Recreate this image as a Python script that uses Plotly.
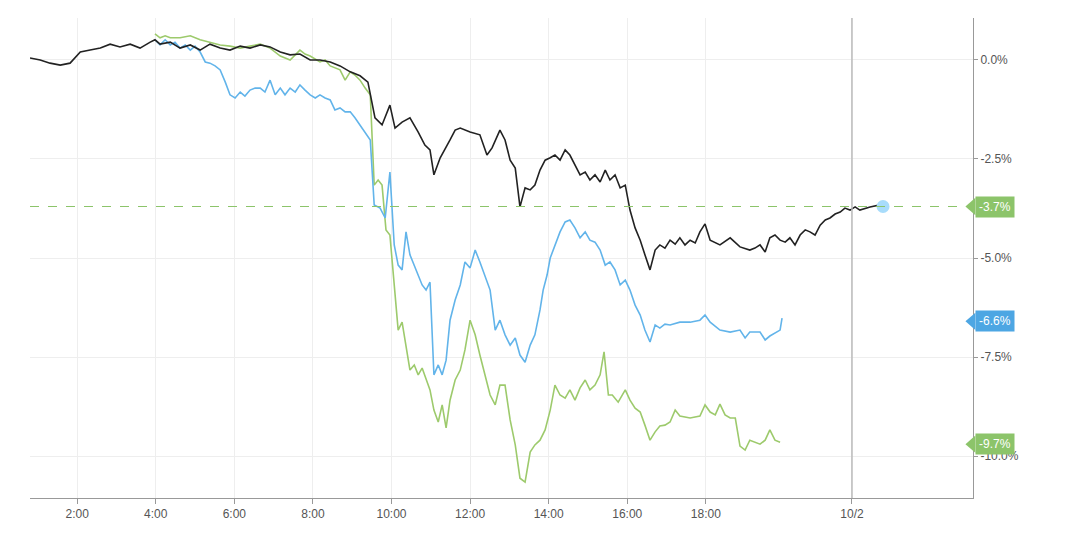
import plotly.graph_objects as go

# times in hours (10/2 tick at 21.72 as in the source axis)
black_t = [0.80,1.06,1.31,1.57,1.82,2.08,2.33,2.59,2.84,3.09,3.35,3.60,3.86,3.98,4.11,4.37,4.62,4.88,5.13,5.38,5.64,5.89,6.15,6.40,6.66,6.91,7.17,7.42,7.67,7.93,8.18,8.44,8.69,8.95,9.20,9.40,9.58,9.76,9.96,10.09,10.27,10.47,10.68,10.85,10.98,11.08,11.24,11.36,11.49,11.62,11.75,12.00,12.25,12.43,12.56,12.76,12.89,13.02,13.15,13.27,13.40,13.53,13.65,13.78,13.91,14.04,14.16,14.29,14.42,14.54,14.67,14.80,14.93,15.05,15.18,15.31,15.44,15.56,15.69,15.82,15.95,16.07,16.20,16.33,16.45,16.58,16.71,16.83,16.96,17.09,17.22,17.34,17.47,17.60,17.73,17.85,17.98,18.11,18.36,18.62,18.87,19.12,19.25,19.38,19.51,19.63,19.76,19.89,20.02,20.14,20.27,20.40,20.53,20.65,20.78,20.91,21.04,21.16,21.29,21.42,21.54,21.67,21.80,21.92,22.18,22.43,22.51]
black_v = [0.05,0,-0.08,-0.13,-0.08,0.20,0.25,0.30,0.40,0.33,0.40,0.30,0.45,0.51,0.40,0.45,0.30,0.38,0.25,0.40,0.30,0.25,0.35,0.30,0.38,0.33,0.20,0.13,0.15,0,0,-0.05,-0.15,-0.30,-0.40,-0.56,-1.46,-1.64,-1.14,-1.72,-1.57,-1.46,-1.82,-2.15,-2.27,-2.90,-2.47,-2.27,-2.02,-1.77,-1.72,-1.82,-1.89,-2.40,-2.22,-1.77,-2.02,-2.53,-2.73,-3.71,-3.23,-3.28,-3.16,-2.78,-2.53,-2.47,-2.40,-2.53,-2.27,-2.40,-2.65,-2.90,-2.83,-3.03,-2.90,-3.08,-2.78,-3.03,-2.90,-3.23,-3.16,-3.79,-4.24,-4.55,-4.92,-5.30,-4.80,-4.67,-4.75,-4.55,-4.65,-4.49,-4.67,-4.55,-4.62,-4.34,-4.14,-4.55,-4.67,-4.49,-4.72,-4.80,-4.75,-4.67,-4.85,-4.49,-4.42,-4.55,-4.60,-4.49,-4.67,-4.42,-4.29,-4.34,-4.42,-4.17,-4.04,-3.99,-3.89,-3.84,-3.74,-3.79,-3.71,-3.79,-3.71,-3.66,-3.70]

blue_t = [3.98,4.11,4.24,4.37,4.49,4.62,4.75,4.88,5.00,5.13,5.26,5.38,5.51,5.64,5.77,5.89,6.02,6.15,6.27,6.40,6.53,6.66,6.78,6.91,7.04,7.17,7.29,7.42,7.55,7.67,7.80,7.93,8.06,8.18,8.31,8.44,8.56,8.69,8.82,8.95,9.07,9.20,9.33,9.46,9.56,9.71,9.84,9.96,10.07,10.17,10.27,10.37,10.47,10.58,10.68,10.78,10.88,10.98,11.08,11.19,11.29,11.39,11.49,11.62,11.75,11.87,12.00,12.13,12.25,12.38,12.51,12.64,12.76,12.89,13.02,13.15,13.27,13.40,13.53,13.65,13.78,13.86,13.96,14.04,14.16,14.29,14.42,14.54,14.67,14.80,14.93,15.05,15.18,15.31,15.44,15.56,15.69,15.82,15.95,16.07,16.20,16.33,16.45,16.58,16.71,16.83,16.96,17.09,17.34,17.60,17.85,17.98,18.11,18.36,18.62,18.87,19.00,19.12,19.38,19.51,19.63,19.89,19.94]
blue_v = [0.51,0.38,0.51,0.38,0.45,0.30,0.38,0.25,0.35,0.20,-0.05,-0.08,-0.15,-0.25,-0.56,-0.88,-0.96,-0.81,-0.91,-0.76,-0.71,-0.71,-0.81,-0.51,-0.88,-0.71,-0.88,-0.71,-0.81,-0.63,-0.76,-0.88,-0.96,-0.88,-0.96,-1.01,-1.26,-1.21,-1.31,-1.31,-1.46,-1.64,-1.82,-2.02,-3.66,-3.74,-3.99,-2.83,-4.67,-5.18,-5.30,-4.34,-4.92,-5.18,-5.43,-5.68,-5.81,-5.61,-7.95,-7.70,-7.95,-7.58,-6.57,-6.06,-5.68,-5.10,-5.25,-4.80,-5.10,-5.43,-5.81,-6.82,-6.57,-6.94,-7.20,-7.02,-7.45,-7.63,-7.20,-6.94,-6.31,-5.81,-5.43,-5.00,-4.67,-4.34,-4.09,-4.04,-4.24,-4.49,-4.34,-4.55,-4.60,-4.80,-5.18,-5.10,-5.30,-5.68,-5.56,-5.81,-6.19,-6.44,-6.82,-7.12,-6.69,-6.77,-6.67,-6.69,-6.62,-6.62,-6.57,-6.44,-6.62,-6.82,-6.87,-6.82,-7.02,-6.87,-6.87,-7.07,-6.97,-6.82,-6.52]

green_t = [3.98,4.11,4.24,4.37,4.62,4.88,5.13,5.38,5.64,5.89,6.15,6.40,6.66,6.91,7.17,7.42,7.67,7.80,7.93,8.18,8.31,8.44,8.56,8.69,8.82,8.95,9.07,9.20,9.33,9.46,9.56,9.66,9.76,9.86,9.96,10.07,10.17,10.27,10.37,10.47,10.58,10.68,10.78,10.88,10.98,11.08,11.19,11.29,11.39,11.49,11.62,11.75,11.87,12.00,12.13,12.25,12.38,12.51,12.64,12.76,12.89,13.02,13.15,13.27,13.40,13.53,13.65,13.78,13.91,14.04,14.16,14.29,14.42,14.54,14.67,14.80,14.93,15.05,15.18,15.31,15.41,15.52,15.62,15.77,15.95,16.07,16.20,16.33,16.45,16.58,16.71,16.83,16.96,17.09,17.22,17.34,17.60,17.85,17.98,18.11,18.24,18.36,18.49,18.62,18.75,18.87,19.00,19.12,19.38,19.51,19.63,19.76,19.89]
green_v = [0.66,0.56,0.61,0.56,0.56,0.61,0.51,0.45,0.38,0.35,0.30,0.35,0.40,0.30,0.10,0,0.25,0.15,0.10,-0.05,0,-0.15,-0.20,-0.25,-0.51,-0.30,-0.38,-0.51,-0.71,-0.88,-3.16,-3.03,-3.16,-4.29,-4.42,-5.68,-6.82,-6.62,-7.20,-7.83,-7.70,-7.95,-7.78,-8.08,-8.33,-8.84,-9.14,-8.71,-9.29,-8.59,-8.08,-7.83,-7.32,-6.57,-6.94,-7.45,-7.95,-8.46,-8.71,-8.21,-8.21,-9.09,-9.72,-10.56,-10.66,-9.90,-9.72,-9.60,-9.34,-8.84,-8.21,-8.46,-8.54,-8.33,-8.59,-8.28,-8.08,-8.33,-8.21,-7.95,-7.37,-8.46,-8.46,-8.64,-8.33,-8.59,-8.79,-8.89,-9.22,-9.60,-9.39,-9.24,-9.22,-9.14,-8.84,-8.99,-9.04,-8.99,-8.71,-8.89,-8.96,-8.69,-8.96,-9.04,-9.04,-9.75,-9.85,-9.60,-9.70,-9.60,-9.34,-9.60,-9.65]

x_tickvals = [2, 4, 6, 8, 10, 12, 14, 16, 18, 21.72]
x_ticktext = ["2:00", "4:00", "6:00", "8:00", "10:00", "12:00", "14:00", "16:00", "18:00", "10/2"]
y_tickvals = [0, -2.5, -5, -7.5, -10]
y_ticktext = ["0.0%", "-2.5%", "-5.0%", "-7.5%", "-10.0%"]
tags = [(-3.7, "-3.7%", "#8cc46a"), (-6.6, "-6.6%", "#4da6e3"), (-9.7, "-9.7%", "#8cc46a")]

fig = go.Figure()
fig.add_trace(go.Scatter(x=green_t, y=green_v, mode="lines", line=dict(color="#9dca6c", width=1.6)))
fig.add_trace(go.Scatter(x=blue_t, y=blue_v, mode="lines", line=dict(color="#62b4ea", width=1.6)))
fig.add_trace(go.Scatter(x=black_t, y=black_v, mode="lines", line=dict(color="#222222", width=1.6)))
fig.add_trace(go.Scatter(x=[black_t[-1]], y=[black_v[-1]], mode="markers",
                         marker=dict(color="#a8dcfb", size=13)))

fig.add_shape(type="line", xref="paper", x0=0, x1=1, y0=-3.7, y1=-3.7,
              line=dict(color="#8cc46a", width=1, dash="dash"))
fig.add_shape(type="line", x0=21.72, x1=21.72, yref="paper", y0=0, y1=1,
              line=dict(color="#bbbbbb", width=1.5))

for y, txt, col in tags:
    fig.add_annotation(xref="paper", x=1.0, xanchor="left", xshift=2, y=y, text=txt,
                       showarrow=False, bgcolor=col, font=dict(color="white", size=12, family="Arial"),
                       borderpad=3)
    fig.add_shape(type="path", xref="paper", yref="y",
                  path=f"M 0.992 {y} L 1.0025 {y+0.22} L 1.0025 {y-0.22} Z",
                  fillcolor=col, line=dict(width=0))

fig.update_layout(
    width=1077, height=544, showlegend=False,
    margin=dict(l=22, r=112, t=10, b=54),
    plot_bgcolor="white", paper_bgcolor="white",
    font=dict(family="Arial", size=12, color="#555"),
    xaxis=dict(range=[0.8, 24.8], tickvals=x_tickvals, ticktext=x_ticktext,
               showgrid=True, gridcolor="#eeeeee", zeroline=False,
               showline=True, linecolor="#999", ticks="outside", ticklen=5, tickcolor="#999"),
    yaxis=dict(side="right", range=[-11.06, 1.06], tickvals=y_tickvals, ticktext=y_ticktext,
               showgrid=True, gridcolor="#eeeeee",
               zeroline=False, showline=True, linecolor="#999", ticks="outside",
               ticklen=4, tickcolor="#999", mirror=False),
)
fig.write_html("out.html")
